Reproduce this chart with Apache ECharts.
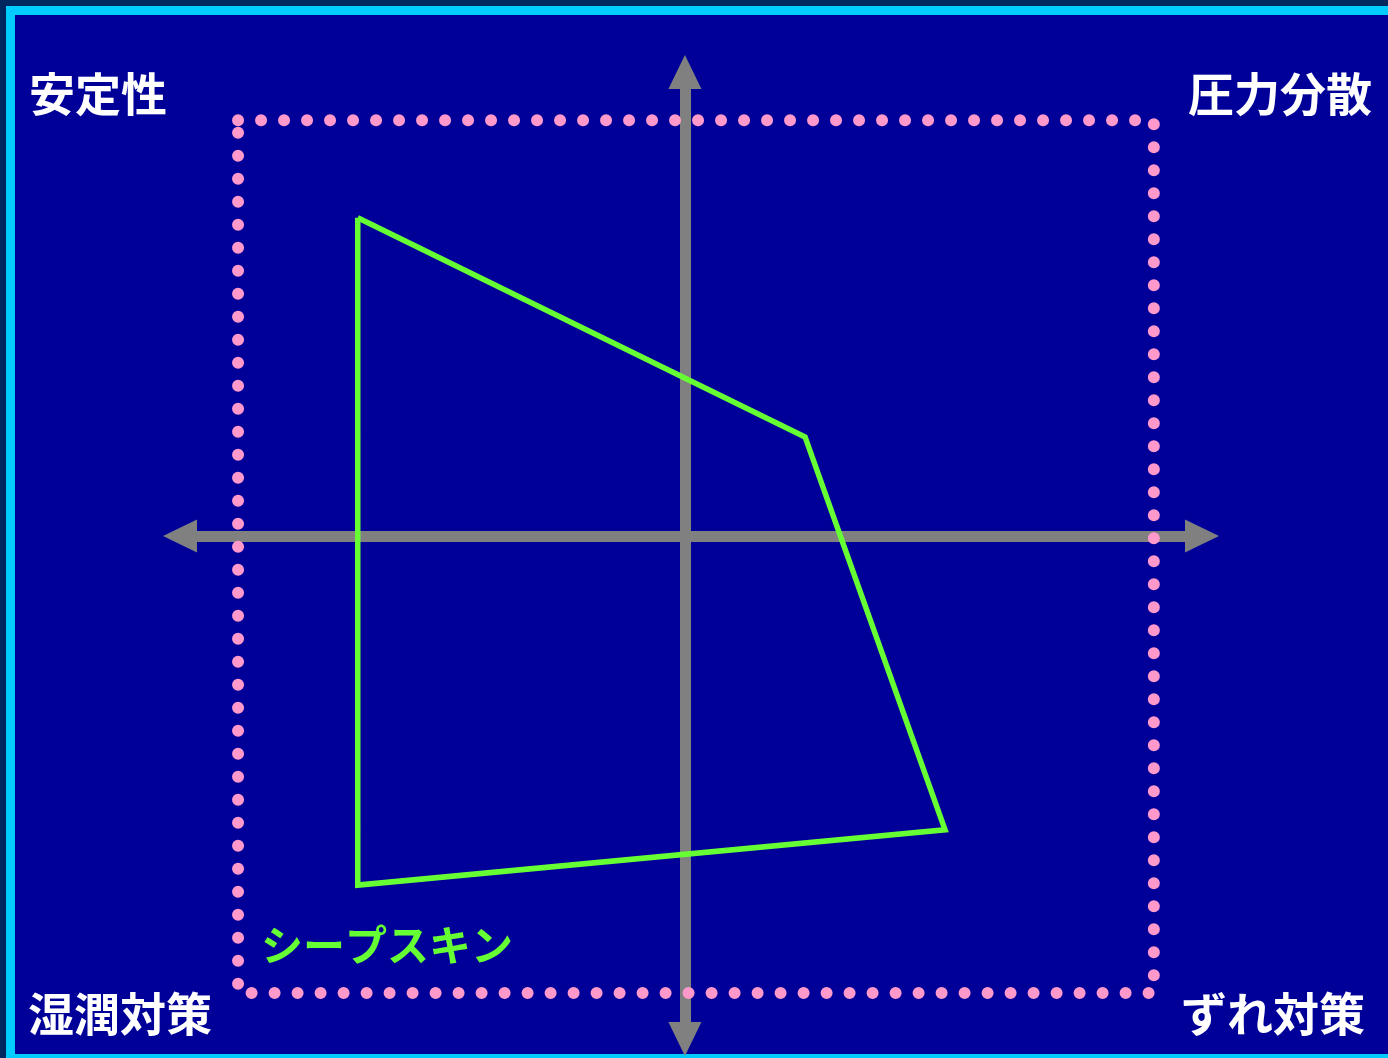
<!DOCTYPE html>
<html>
<head>
<meta charset="utf-8">
<script src="https://cdn.jsdelivr.net/npm/echarts@6/dist/echarts.min.js"></script>
<style>
  html, body { margin: 0; padding: 0; width: 1388px; height: 1058px; overflow: hidden; background: #00285e; }
  #frame { position: absolute; left: 6px; top: 6px; width: 1400px; height: 1039px; border: 9px solid #00ccff; background: #000099; }
  #chart { position: absolute; left: 0; top: 0; width: 1388px; height: 1058px; }
</style>
</head>
<body>
<div id="frame"></div>
<div id="chart"></div>
<script>
// ---- data (unit: score on each axis; x-axis crossing at 0, y-axis crossing at 0) ----
const seriesName = 'シープスキン';
const polygonX = [-7.27, 2.67, 5.78, -7.27];
const polygonY = [7.07, 2.20, -6.53, -7.76];
const frameX = [-9.93, 10.42];
const frameY = [-10.16, 9.24];
const axisX = [-11.22, 11.49];
const axisY = [-11.18, 10.31];
const cornerLabels = ['安定性', '圧力分散', '湿潤対策', 'ずれ対策'];

// build series data from arrays
const polyData = polygonX.map((x, i) => [x, polygonY[i]]);
polyData.push(polyData[0]);
const frameData = [
  [frameX[0], frameY[1]], [frameX[1], frameY[1]],
  [frameX[1], frameY[0]], [frameX[0], frameY[0]],
  [frameX[0], frameY[1]]
];

const chart = echarts.init(document.getElementById('chart'), null, { renderer: 'canvas' });
const axisStyle = {
  show: true,
  onZero: true,
  symbol: ['triangle', 'triangle'],
  symbolSize: [33, 34],
  lineStyle: { color: '#808080', width: 11 }
};
const cjk = '"Noto Sans CJK JP", sans-serif';
chart.setOption({
  backgroundColor: 'transparent',
  animation: false,
  grid: { left: 180, right: 186, top: 72, bottom: 19 },
  xAxis: {
    type: 'value', min: axisX[0], max: axisX[1],
    axisLine: axisStyle, axisTick: { show: false }, axisLabel: { show: false }, splitLine: { show: false }
  },
  yAxis: {
    type: 'value', min: axisY[0], max: axisY[1],
    axisLine: axisStyle, axisTick: { show: false }, axisLabel: { show: false }, splitLine: { show: false }
  },
  series: [
    {
      type: 'line', name: 'frame', data: frameData, symbol: 'none', z: 3,
      lineStyle: { color: '#ff99cc', width: 12, type: [0, 23], cap: 'round' }
    },
    {
      type: 'line', name: seriesName, data: polyData, symbol: 'none', z: 4,
      lineStyle: { color: '#66ff33', width: 5.5, join: 'miter' }
    }
  ],
  graphic: [
    { type: 'text', x: 29, y: 94, style: { text: cornerLabels[0], fill: '#ffffff', font: 'bold 46px ' + cjk, align: 'left', verticalAlign: 'middle' } },
    { type: 'text', x: 1372, y: 94, style: { text: cornerLabels[1], fill: '#ffffff', font: 'bold 46px ' + cjk, align: 'right', verticalAlign: 'middle' } },
    { type: 'text', x: 28, y: 1014, style: { text: cornerLabels[2], fill: '#ffffff', font: 'bold 46px ' + cjk, align: 'left', verticalAlign: 'middle' } },
    { type: 'text', x: 1365, y: 1014, style: { text: cornerLabels[3], fill: '#ffffff', font: 'bold 46px ' + cjk, align: 'right', verticalAlign: 'middle' } },
    { type: 'text', x: 261, y: 945, style: { text: seriesName, fill: '#66ff33', font: 'bold 42px ' + cjk, align: 'left', verticalAlign: 'middle' } }
  ]
});
</script>
</body>
</html>
